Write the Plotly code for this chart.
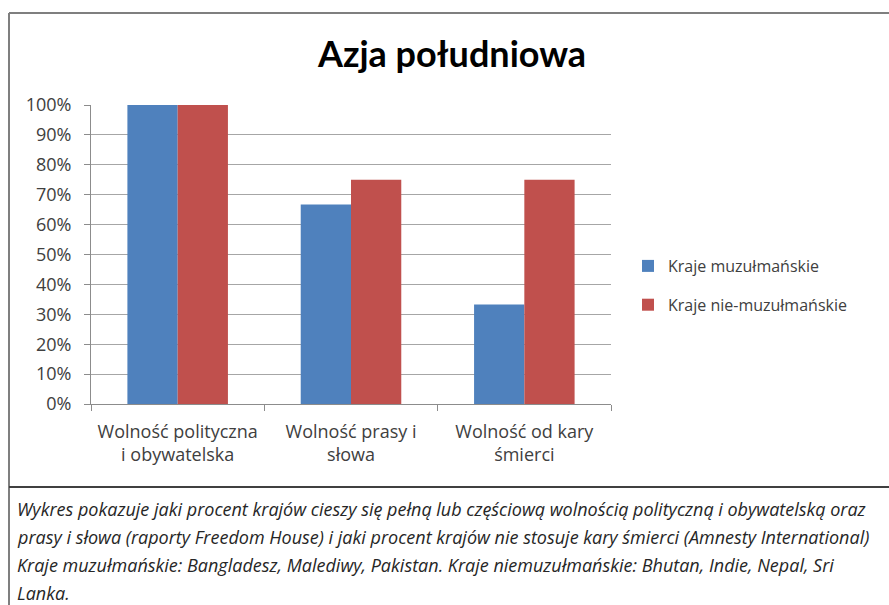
import plotly.graph_objects as go

# Share of countries (%) per freedom indicator, South Asia
categories = ["Wolność polityczna<br>i obywatelska", "Wolność prasy i<br>słowa", "Wolność od kary<br>śmierci"]
muslim = [100, 66.7, 33.3]
non_muslim = [100, 75, 75]
series_names = ["Kraje muzułmańskie", "Kraje nie-muzułmańskie"]
tick_vals = [0, 10, 20, 30, 40, 50, 60, 70, 80, 90, 100]
tick_text = [f"{v}%" for v in tick_vals]

caption_lines = [
    "Wykres pokazuje jaki procent krajów cieszy się pełną lub częściową wolnością polityczną i obywatelską oraz",
    "prasy i słowa (raporty Freedom House) i jaki procent krajów nie stosuje kary śmierci (Amnesty International)",
    "Kraje muzułmańskie: Bangladesz, Malediwy, Pakistan. Kraje niemuzułmańskie: Bhutan, Indie, Nepal, Sri",
    "Lanka.",
]

W, H = 889, 605
FONT = "Open Sans"
TXT = "#404040"

fig = go.Figure()
fig.add_trace(go.Bar(x=categories, y=muslim, name=series_names[0],
                     marker=dict(color="#4F81BD", line=dict(width=0)), legendgroup="a"))
fig.add_trace(go.Bar(x=categories, y=non_muslim, name=series_names[1],
                     marker=dict(color="#C0504D", line=dict(width=0)), legendgroup="b"))

def px(x):
    return x / W

def py(y):
    return (H - y) / H

fig.update_layout(
    width=W, height=H,
    margin=dict(l=0, r=0, t=0, b=0, autoexpand=False),
    paper_bgcolor="white", plot_bgcolor="white",
    barmode="group", bargap=0.42, bargroupgap=0,
    font=dict(family=FONT, color=TXT),
    title=dict(text="<b>Azja południowa</b>", x=px(452), xanchor="center",
               y=py(54), yanchor="middle", automargin=False,
               font=dict(family="Lato", size=36, color="#000000")),
    xaxis=dict(domain=[px(91), px(611)], tickson="boundaries", ticks="outside",
               ticklen=6, tickcolor="#8c8c8c", showline=True, linecolor="#8c8c8c",
               linewidth=1, tickfont=dict(size=18, color=TXT), showgrid=False,
               ticklabelstandoff=11, automargin=False),
    yaxis=dict(domain=[py(404), py(105)], range=[0, 100], tickvals=tick_vals,
               ticktext=tick_text, ticks="outside", ticklen=6, tickcolor="#8c8c8c",
               showline=True, linecolor="#8c8c8c", linewidth=1,
               showgrid=True, gridcolor="#a6a6a6", gridwidth=1,
               tickfont=dict(size=18, color=TXT), zeroline=False,
               ticklabelstandoff=9, automargin=False),
    legend=dict(x=px(628), y=py(249), xanchor="left", yanchor="top",
                font=dict(size=16, color=TXT), traceorder="grouped",
                tracegroupgap=15, itemwidth=30, bgcolor="rgba(0,0,0,0)"),
    showlegend=True,
)

# Chart frame and divider above the caption
frame = dict(color="#7f7f7f", width=2)
fig.add_shape(type="line", xref="paper", yref="paper", x0=px(9), x1=1, y0=py(13), y1=py(13), line=frame)
fig.add_shape(type="line", xref="paper", yref="paper", x0=px(9), x1=px(9), y0=py(13), y1=0, line=frame)
fig.add_shape(type="line", xref="paper", yref="paper", x0=px(9), x1=1, y0=py(487), y1=py(487),
              line=dict(color="#404040", width=2))

# Caption block
for i, line in enumerate(caption_lines):
    fig.add_annotation(text=f"<i>{line}</i>", xref="paper", yref="paper",
                       x=px(15), y=py(509 + i * 28), xanchor="left", yanchor="middle",
                       showarrow=False, font=dict(family=FONT, size=18, color="#262626"))

fig.write_html("out.html")
